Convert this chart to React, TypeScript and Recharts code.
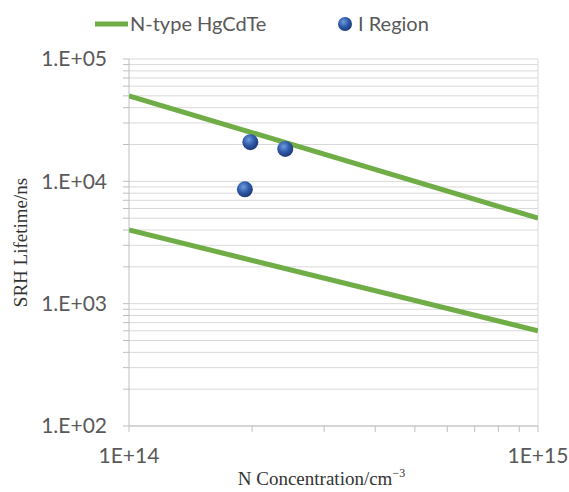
import { ScatterChart, Scatter, XAxis, YAxis, CartesianGrid, ReferenceLine } from "recharts";

const xTicks = [1e14, 2e14, 3e14, 4e14, 5e14, 6e14, 7e14, 8e14, 9e14, 1e15];
const xTickLabels = ["1E+14", "1E+15"];
const yTicks = [
  1e2, 2e2, 3e2, 4e2, 5e2, 6e2, 7e2, 8e2, 9e2,
  1e3, 2e3, 3e3, 4e3, 5e3, 6e3, 7e3, 8e3, 9e3,
  1e4, 2e4, 3e4, 4e4, 5e4, 6e4, 7e4, 8e4, 9e4,
  1e5,
];
const yTickLabels = ["1.E+02", "1.E+03", "1.E+04", "1.E+05"];

// N-type HgCdTe bounds (concentration, lifetime ns)
const upperLine = [
  { n: 1e14, t: 5e4 },
  { n: 1e15, t: 5e3 },
];
const lowerLine = [
  { n: 1e14, t: 4e3 },
  { n: 1e15, t: 6e2 },
];
const iRegion = [
  { n: 1.98e14, t: 2.09e4 },
  { n: 2.41e14, t: 1.84e4 },
  { n: 1.92e14, t: 8.6e3 },
];

const GREEN = "#70AD47";
const GRID = "#d9d9d9";
const AXIS = "#bfbfbf";
const TICK_FONT = { fill: "#595959", fontFamily: "Lato, 'Open Sans', sans-serif", fontSize: 21 };
const LEGEND_FONT = { ...TICK_FONT, fontSize: 20 };
const TITLE_FONT = "'Liberation Serif', 'DejaVu Serif', serif";

function decadeLabel(v: number, labels: string[], startExp: number) {
  const e = Math.round(Math.log10(v));
  if (Math.abs(v - Math.pow(10, e)) / v > 1e-6) return "";
  return labels[e - startExp] ?? "";
}

function Ball(props: any) {
  const { cx, cy, index } = props;
  if (cx == null || cy == null) return <g />;
  const id = `ball-${index}`;
  return (
    <g>
      <defs>
        <radialGradient id={id} cx="40%" cy="35%" r="65%">
          <stop offset="0%" stopColor="#6f9be0" />
          <stop offset="55%" stopColor="#2f5aa8" />
          <stop offset="100%" stopColor="#1c3a78" />
        </radialGradient>
      </defs>
      <circle cx={cx} cy={cy} r={8} fill={`url(#${id})`} />
    </g>
  );
}

function Legend() {
  return (
    <svg width={569} height={50} style={{ position: "absolute", left: 0, top: 0 }}>
      <line x1={95} y1={24} x2={128} y2={24} stroke={GREEN} strokeWidth={5} />
      <text x={130} y={31} {...LEGEND_FONT}>N-type HgCdTe</text>
      <defs>
        <radialGradient id="legball" cx="40%" cy="35%" r="65%">
          <stop offset="0%" stopColor="#6f9be0" />
          <stop offset="55%" stopColor="#2f5aa8" />
          <stop offset="100%" stopColor="#1c3a78" />
        </radialGradient>
      </defs>
      <circle cx={345} cy={24} r={7} fill="url(#legball)" />
      <text x={358} y={31} {...LEGEND_FONT}>I Region</text>
    </svg>
  );
}

export default function App() {
  return (
    <div style={{ position: "absolute", left: 0, top: 0, width: 569, height: 492, background: "#fff" }}>
      <ScatterChart width={569} height={492} margin={{ top: 59, right: 31, left: 0, bottom: 0 }}>
        <CartesianGrid vertical={false} stroke={GRID} />
        <XAxis
          type="number"
          dataKey="n"
          scale="log"
          domain={[1e14, 1e15]}
          ticks={xTicks}
          interval={0}
          allowDataOverflow
          height={66}
          tick={TICK_FONT}
          tickSize={6}
          tickMargin={16}
          axisLine={{ stroke: AXIS }}
          tickLine={{ stroke: AXIS }}
          tickFormatter={(v: number) => decadeLabel(v, xTickLabels, 14)}
          label={{
            content: ({ viewBox }: any) => (
              <text
                x={viewBox.x + viewBox.width / 2 - 12}
                y={viewBox.y + 59}
                textAnchor="middle"
                fontFamily={TITLE_FONT}
                fontSize={19}
                fill="#333"
              >
                N Concentration/cm
                <tspan fontSize={12} dy={-8}>−3</tspan>
              </text>
            ),
          }}
        />
        <YAxis
          type="number"
          dataKey="t"
          scale="log"
          domain={[1e2, 1e5]}
          ticks={yTicks}
          interval={0}
          allowDataOverflow
          width={129}
          tick={TICK_FONT}
          tickSize={6}
          tickMargin={16}
          axisLine={{ stroke: AXIS }}
          tickLine={{ stroke: AXIS }}
          tickFormatter={(v: number) => decadeLabel(v, yTickLabels, 2)}
          label={{
            content: ({ viewBox }: any) => {
              const x = viewBox.x + 20;
              const y = viewBox.y + viewBox.height / 2;
              return (
                <text
                  x={x}
                  y={y}
                  transform={`rotate(-90 ${x} ${y})`}
                  textAnchor="middle"
                  dominantBaseline="central"
                  fontFamily={TITLE_FONT}
                  fontSize={19}
                  fill="#333"
                >
                  SRH Lifetime/ns
                </text>
              );
            },
          }}
        />
        <ReferenceLine x={1e15} stroke={GRID} />
        <Scatter
          data={upperLine}
          line={{ stroke: GREEN, strokeWidth: 5 }}
          shape={() => <g />}
          isAnimationActive={false}
        />
        <Scatter
          data={lowerLine}
          line={{ stroke: GREEN, strokeWidth: 5 }}
          shape={() => <g />}
          isAnimationActive={false}
        />
        <Scatter data={iRegion} shape={Ball} isAnimationActive={false} />
      </ScatterChart>
      <Legend />
    </div>
  );
}
